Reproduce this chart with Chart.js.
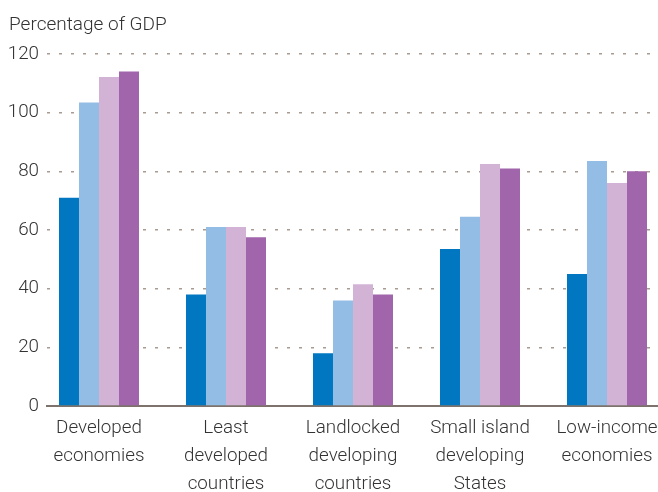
<!DOCTYPE html>
<html>
<head>
<meta charset="utf-8">
<script src="https://cdn.jsdelivr.net/npm/chart.js@4/dist/chart.umd.min.js"></script>
<style>
    html, body { margin: 0; padding: 0; background: #fff; overflow: hidden; }
    #wrap { position: relative; width: 658px; height: 492px; }
</style>
</head>
<body>
<div id="wrap"><canvas id="gdpChart" width="658" height="492"></canvas></div>
<script>
const categories = [
    ['Developed', 'economies'],
    ['Least', 'developed', 'countries'],
    ['Landlocked', 'developing', 'countries'],
    ['Small island', 'developing', 'States'],
    ['Low-income', 'economies']
];
const seriesA = [71, 38, 18, 53.5, 45];
const seriesB = [103.5, 61, 36, 64.5, 83.5];
const seriesC = [112.2, 61, 41.5, 82.5, 76];
const seriesD = [114, 57.5, 38, 81, 80];
const yTicks = [0, 20, 40, 60, 80, 100, 120];
const colors = ['#0077c0', '#93bde4', '#d2b3d5', '#a065ab'];

const textColor = '#333333';
const fontFamily = 'Roboto, "Noto Sans", sans-serif';

// y axis caption in the top-left corner
const captionPlugin = {
    id: 'caption',
    afterDraw(chart) {
        const ctx = chart.ctx;
        ctx.save();
        ctx.font = '300 19px ' + fontFamily;
        ctx.fillStyle = textColor;
        ctx.textAlign = 'left';
        ctx.textBaseline = 'alphabetic';
        ctx.fillText('Percentage of GDP', 9, 30);
        ctx.restore();
    }
};

const ctx = document.getElementById('gdpChart').getContext('2d');
new Chart(ctx, {
    type: 'bar',
    data: {
        labels: categories,
        datasets: [seriesA, seriesB, seriesC, seriesD].map((d, i) => ({
            data: d,
            backgroundColor: colors[i],
            borderWidth: 0,
            categoryPercentage: 80 / 127,
            barPercentage: 1
        }))
    },
    options: {
        responsive: false,
        animation: false,
        layout: { padding: { top: 54, right: 0, bottom: 0, left: 0 } },
        plugins: {
            legend: { display: false },
            tooltip: { enabled: false }
        },
        scales: {
            x: {
                grid: { display: false },
                border: { display: true, color: '#7d736c', width: 2 },
                ticks: {
                    autoSkip: false,
                    maxRotation: 0,
                    padding: 0,
                    color: textColor,
                    font: { family: fontFamily, size: 18.8, weight: 300, lineHeight: 1.5 }
                },
                afterBuildTicks: s => {
                    // spread the groups like the original (centres 127px apart)
                    s._startValue = -0.4094;
                    s._valueRange = 4.811;
                },
                afterFit: s => {
                    s.height = 86;
                    s.paddingLeft = 0;
                    s.paddingRight = 0;
                }
            },
            y: {
                min: 0,
                max: 120,
                afterBuildTicks: s => {
                    s.ticks = yTicks.map(v => ({ value: v }));
                },
                grid: {
                    color: '#a89b91',
                    lineWidth: 1.5,
                    drawTicks: false
                },
                border: { display: false, dash: [3, 9] },
                ticks: {
                    padding: 8,
                    color: textColor,
                    font: { family: fontFamily, size: 18.8, weight: 300 }
                },
                afterFit: s => {
                    s.width = 47;
                    s.paddingTop = 0;
                    s.paddingBottom = 0;
                }
            }
        }
    },
    plugins: [captionPlugin]
});
</script>
</body>
</html>
